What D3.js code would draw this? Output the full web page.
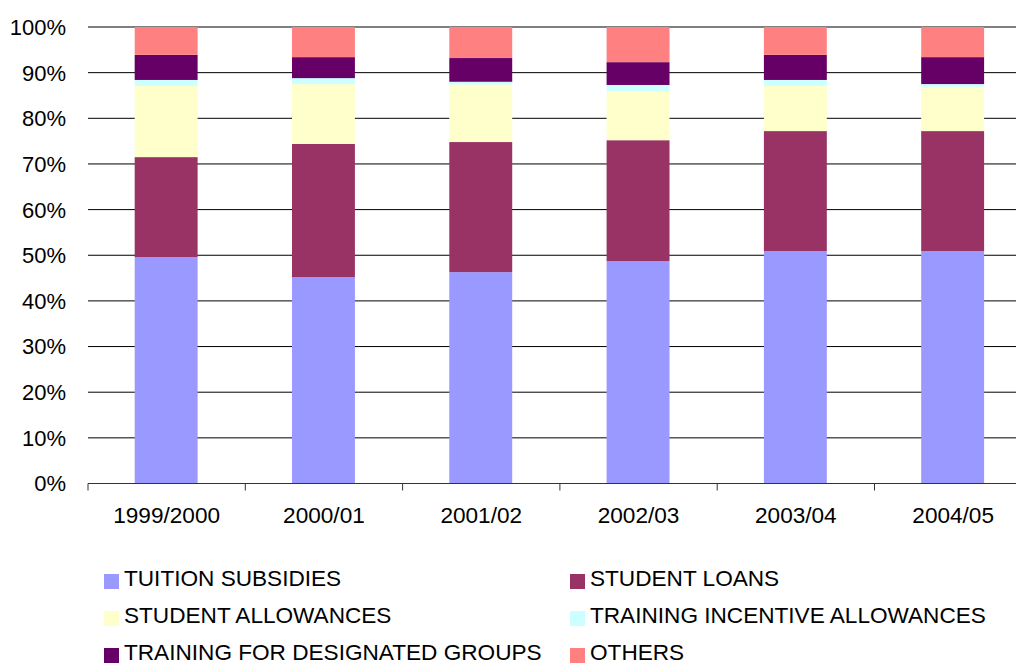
<!DOCTYPE html>
<html>
<head>
<meta charset="utf-8">
<script src="https://cdn.jsdelivr.net/npm/d3@7"></script>
<style>
html,body{margin:0;padding:0;background:#fff;}
svg{display:block;font-family:"Liberation Sans",Arial,sans-serif;}
</style>
</head>
<body>
<svg id="chart" width="1016" height="664"></svg>
<script>
const categories = ["1999/2000","2000/01","2001/02","2002/03","2003/04","2004/05"];
const seriesNames = ["TUITION SUBSIDIES","STUDENT LOANS","STUDENT ALLOWANCES","TRAINING INCENTIVE ALLOWANCES","TRAINING FOR DESIGNATED GROUPS","OTHERS"];
const tuitionSubsidies = [49.6,45.2,46.3,48.7,50.9,50.9];
const studentLoans = [21.9,29.2,28.5,26.5,26.3,26.3];
const studentAllowances = [15.6,13.1,12.6,10.8,9.9,9.7];
const trainingIncentive = [1.3,1.3,0.6,1.3,1.3,0.6];
const designatedGroups = [5.5,4.6,5.2,5.0,5.5,5.9];
const others = [6.1,6.6,6.8,7.7,6.1,6.6];
const yTicks = [0,10,20,30,40,50,60,70,80,90,100];
const colors = ["#9999FF","#993366","#FFFFCC","#CCFFFF","#660066","#FF8080"];

(function(){
const seriesValues = [tuitionSubsidies,studentLoans,studentAllowances,trainingIncentive,designatedGroups,others];
const rows = categories.map((c,i)=>{
  const r = {cat:c};
  seriesNames.forEach((s,j)=>r[s]=seriesValues[j][i]);
  return r;
});

const svg = d3.select("#chart");
const mLeft = 88, mTop = 27, mBottom = 483.5, step = 157.3;
const x = d3.scaleBand().domain(categories).range([mLeft, mLeft+6*step]).paddingInner(0.6).paddingOuter(0.3);
const y = d3.scaleLinear().domain([0,100]).range([mBottom, mTop]);

// gridlines
svg.append("g").selectAll("line").data(yTicks.filter(d=>d>0)).join("line")
  .attr("x1", mLeft).attr("x2", 1016)
  .attr("y1", d=>y(d)).attr("y2", d=>y(d))
  .attr("stroke","#000").attr("stroke-width",1);

// y labels
svg.append("g").selectAll("text").data(yTicks).join("text")
  .attr("x", 66).attr("y", d=>y(d)).attr("dy","0.36em")
  .attr("text-anchor","end").attr("font-size","22px").attr("fill","#000")
  .text(d=>d+"%");

// bars
const stack = d3.stack().keys(seriesNames)(rows);
svg.append("g").selectAll("g").data(stack).join("g")
  .attr("fill",(d,i)=>colors[i])
  .selectAll("rect").data(d=>d).join("rect")
  .attr("x", d=>x(d.data.cat)-0.5)
  .attr("width", x.bandwidth())
  .attr("y", d=>y(d[1]))
  .attr("height", d=>y(d[0])-y(d[1]));

// x axis
const xAxis = svg.append("g");
xAxis.append("line").attr("x1",mLeft).attr("x2",1016).attr("y1",mBottom).attr("y2",mBottom)
  .attr("stroke","#333").attr("stroke-width",1);
const boundaries = d3.range(categories.length+1).map(i=>mLeft + i*x.step());
xAxis.selectAll("line.tick").data(boundaries).join("line").attr("class","tick")
  .attr("x1",d=>d).attr("x2",d=>d).attr("y1",mBottom).attr("y2",mBottom+7)
  .attr("stroke","#333").attr("stroke-width",1);
xAxis.selectAll("text").data(categories).join("text")
  .attr("x", d=>x(d)+x.bandwidth()/2).attr("y", 523)
  .attr("text-anchor","middle").attr("font-size","22.6px").attr("fill","#000")
  .text(d=>d);

// legend
const legend = svg.append("g");
seriesNames.forEach((s,i)=>{
  const col = i%2, row = Math.floor(i/2);
  const lx = col===0 ? 104 : 570;
  const by = 586 + row*37;
  legend.append("rect").attr("x",lx).attr("y",by-12).attr("width",15).attr("height",15).attr("fill",colors[i]);
  legend.append("text").attr("x",lx+20).attr("y",by).attr("font-size","22.6px").attr("fill","#000").text(s);
});
})();
</script>
</body>
</html>
